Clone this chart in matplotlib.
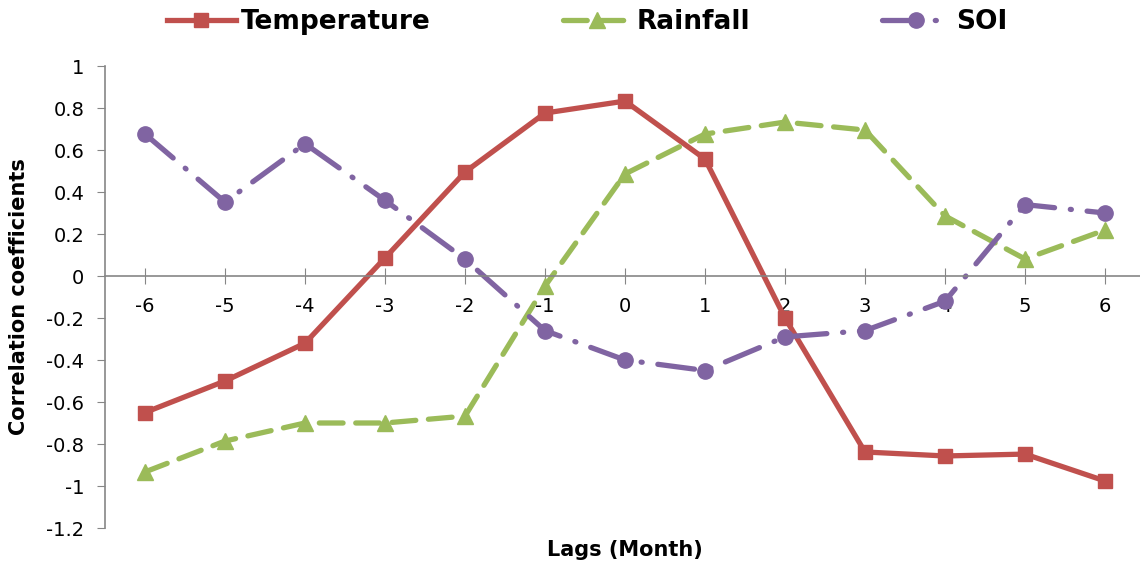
import matplotlib.pyplot as plt
import numpy as np

lags = [-6, -5, -4, -3, -2, -1, 0, 1, 2, 3, 4, 5, 6]
temperature = [-0.65, -0.50, -0.32, 0.086, 0.495, 0.776, 0.833, 0.557, -0.20, -0.838, -0.857, -0.848, -0.976]
rainfall = [-0.933, -0.786, -0.70, -0.70, -0.667, -0.048, 0.486, 0.676, 0.733, 0.695, 0.286, 0.081, 0.219]
soi = [0.676, 0.352, 0.63, 0.36, 0.08, -0.26, -0.40, -0.45, -0.29, -0.26, -0.12, 0.34, 0.30]

plt.rcParams['font.family'] = 'DejaVu Sans'

fig = plt.figure(figsize=(11.4, 5.61), dpi=100)
ax = fig.add_axes([105/1140, 1 - 528/561, 1040/1140, 462/561])

lw = 3.8
ax.plot(lags, temperature, color='#C0504D', lw=lw, marker='s', ms=10,
        label='Temperature', solid_joinstyle='round')
ax.plot(lags, rainfall, color='#9BBB59', lw=lw, marker='^', ms=11,
        dashes=(4.5, 2.4), dash_capstyle='round', label='Rainfall')
ax.plot(lags, soi, color='#8064A2', lw=lw, marker='o', ms=11,
        dashes=(7, 3, 0.2, 3), dash_capstyle='round', label='SOI')

ax.set_xlim(-6.5, 6.5)
ax.set_ylim(-1.2, 1)
ax.set_yticks(np.arange(-1.2, 1.01, 0.2))
ax.set_yticklabels(['-1.2', '-1', '-0.8', '-0.6', '-0.4', '-0.2', '0',
                    '0.2', '0.4', '0.6', '0.8', '1'])
ax.set_xticks(lags)
ax.set_xticklabels([str(v) for v in lags])

# axis lines: y spine on the left, x axis crossing at zero
for s in ['top', 'right']:
    ax.spines[s].set_visible(False)
ax.spines['bottom'].set_position(('data', 0))
for s in ['left', 'bottom']:
    ax.spines[s].set_color('#868686')
    ax.spines[s].set_linewidth(1.2)
ax.tick_params(axis='y', direction='out', length=6, color='#868686', labelsize=14, pad=9)
ax.tick_params(axis='x', direction='inout', length=12, color='#868686', labelsize=14, pad=9)

ax.set_ylabel('Correlation coefficients', fontsize=15, fontweight='bold', labelpad=12)
ax.set_xlabel('Lags (Month)', fontsize=15, fontweight='bold')
ax.xaxis.set_label_coords(0.5, -0.025, transform=ax.transAxes)

fig.legend(*ax.get_legend_handles_labels(), loc='center', bbox_to_anchor=(0.515, 1 - 22/561),
           ncol=3, frameon=False, prop={'size': 19, 'weight': 'bold'}, handlelength=2.6,
           columnspacing=5.0, handletextpad=0.2, borderaxespad=0)

fig.savefig('out.png', dpi=100)
